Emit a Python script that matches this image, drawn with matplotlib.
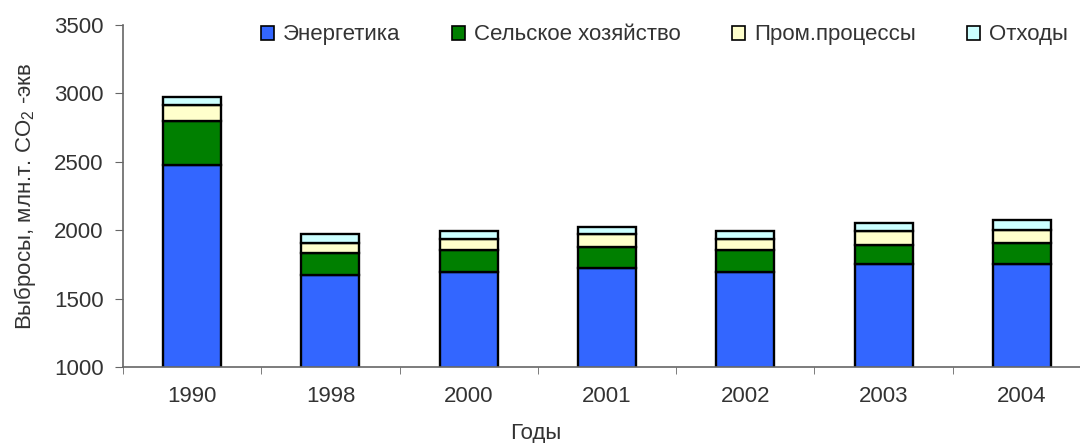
import matplotlib
matplotlib.use('Agg')
import matplotlib.pyplot as plt
import numpy as np

plt.rcParams['font.family'] = ['Liberation Sans', 'DejaVu Sans']
plt.rcParams['mathtext.fontset'] = 'custom'
plt.rcParams['mathtext.rm'] = 'Liberation Sans'
plt.rcParams['mathtext.default'] = 'regular'

years = ['1990', '1998', '2000', '2001', '2002', '2003', '2004']
energy = [2474, 1670, 1695, 1721, 1697, 1750, 1750]
agriculture = [321, 165, 157, 158, 155, 141, 158]
industry = [122, 73, 86, 90, 86, 100, 90]
waste = [58, 61, 55, 53, 53, 58, 78]

names = ['Энергетика', 'Сельское хозяйство', 'Пром.процессы', 'Отходы']
colors = ['#3366FF', '#007F00', '#FFFFCC', '#CCFFFF']

fig = plt.figure(figsize=(10.8, 4.43), dpi=100)
ax = fig.add_axes([0.1139, 0.1716, 0.8963, 0.772])

x = np.arange(len(years))
bottom = np.zeros(len(years))
handles = []
for vals, name, col in zip([energy, agriculture, industry, waste], names, colors):
    h = ax.bar(x, vals, width=0.42, bottom=bottom, color=col,
               edgecolor='black', linewidth=1.7, label=name, zorder=2)
    handles.append(h)
    bottom += np.array(vals)

ax.set_xlim(-0.5, len(years) - 0.5)
ax.set_ylim(1000, 3500)
ax.set_yticks(np.arange(1000, 3501, 500))
ax.set_xticks(x)
ax.set_xticklabels(years)
ax.set_xticks(np.arange(-0.5, len(years), 1), minor=True)

for s in ['top', 'right']:
    ax.spines[s].set_visible(False)
for s in ['left', 'bottom']:
    ax.spines[s].set_color('#666666')
    ax.spines[s].set_linewidth(1.2)

fs = 16
ax.tick_params(axis='x', which='major', length=0, pad=14, labelsize=fs, labelcolor='#333333')
ax.tick_params(axis='x', which='minor', length=5, color='#666666', direction='out')
ax.tick_params(axis='y', length=6, color='#666666', labelsize=fs, labelcolor='#333333', pad=8)

ax.set_ylabel('Выбросы, млн.т. CO$_2$ -экв', fontsize=fs, color='#333333')
ax.yaxis.set_label_coords(-0.088, 0.5)
ax.set_xlabel('Годы', fontsize=fs, color='#333333')
ax.xaxis.set_label_coords(0.426, -0.165)

leg = fig.legend(handles, names, loc='upper right', bbox_to_anchor=(0.997, 0.965),
                 ncol=4, frameon=False, fontsize=fs, handlelength=0.6, handleheight=0.6,
                 handletextpad=0.4, columnspacing=2.3, borderaxespad=0)
for t in leg.get_texts():
    t.set_color('#333333')
for p in leg.get_patches():
    p.set_linewidth(1.2)

fig.savefig('out.png', dpi=100)
